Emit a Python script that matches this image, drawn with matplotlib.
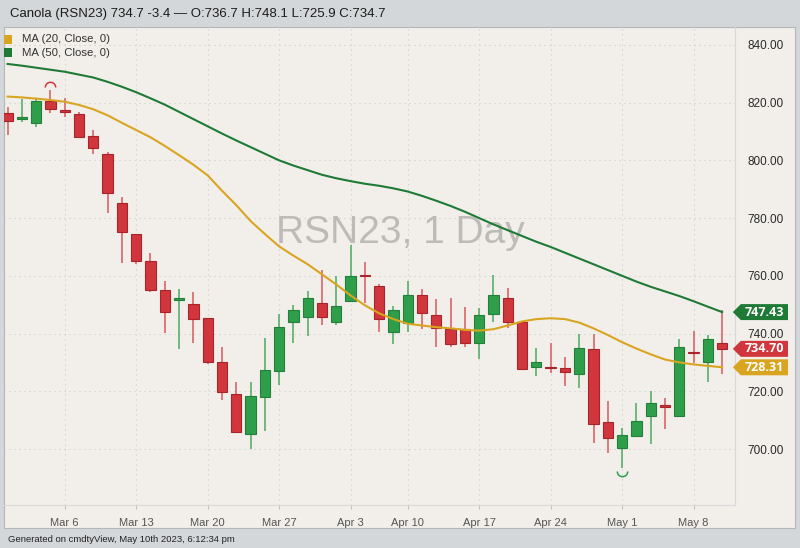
import numpy as np
import pandas as pd
import matplotlib
matplotlib.use('Agg')
import matplotlib.pyplot as plt
import matplotlib.transforms as mtransforms
from matplotlib.path import Path
from matplotlib.patches import Rectangle, Polygon

plt.rcParams['font.family'] = ['Liberation Sans', 'DejaVu Sans']

# Canola RSN23 daily bars
dates = ['2023-02-28', '2023-03-01', '2023-03-02', '2023-03-03',
         '2023-03-06', '2023-03-07', '2023-03-08', '2023-03-09', '2023-03-10',
         '2023-03-13', '2023-03-14', '2023-03-15', '2023-03-16', '2023-03-17',
         '2023-03-20', '2023-03-21', '2023-03-22', '2023-03-23', '2023-03-24',
         '2023-03-27', '2023-03-28', '2023-03-29', '2023-03-30', '2023-03-31',
         '2023-04-03', '2023-04-04', '2023-04-05', '2023-04-06',
         '2023-04-10', '2023-04-11', '2023-04-12', '2023-04-13', '2023-04-14',
         '2023-04-17', '2023-04-18', '2023-04-19', '2023-04-20', '2023-04-21',
         '2023-04-24', '2023-04-25', '2023-04-26', '2023-04-27', '2023-04-28',
         '2023-05-01', '2023-05-02', '2023-05-03', '2023-05-04', '2023-05-05',
         '2023-05-08', '2023-05-09', '2023-05-10']

opens = [816.3, 814.4, 812.9, 820.4, 817.6, 816.1, 808.5, 802.1, 785.1,
         774.4, 765.3, 755.1, 751.7, 750.2, 745.3, 730.1, 719.0, 705.2, 718.1,
         727.1, 744.1, 745.6, 750.7, 744.1, 751.3, 760.2, 756.3, 740.4,
         743.6, 753.4, 746.4, 741.5, 741.5, 736.6, 746.7, 752.2, 744.1, 728.5,
         728.2, 728.0, 725.9, 734.6, 709.3, 700.3, 704.5, 711.5, 715.3, 711.6,
         733.6, 730.1, 736.7]
highs = [818.6, 821.2, 821.2, 824.4, 821.5, 816.9, 810.5, 803.0, 787.2,
         774.6, 768.0, 758.3, 755.3, 754.5, 745.5, 735.5, 723.3, 723.3, 738.4,
         746.7, 749.9, 754.8, 762.0, 760.0, 770.7, 764.7, 757.2, 749.6,
         758.3, 755.3, 751.9, 752.4, 749.3, 748.8, 760.3, 755.7, 744.3, 734.9,
         736.8, 732.0, 739.9, 739.9, 716.6, 707.2, 716.1, 720.1, 717.8, 738.0,
         741.0, 739.5, 748.1]
lows = [808.8, 813.4, 811.7, 816.3, 814.9, 807.7, 802.2, 781.9, 764.4,
        764.1, 754.5, 740.3, 734.6, 736.6, 729.5, 717.0, 705.5, 699.9, 706.4,
        722.2, 736.6, 739.2, 743.0, 743.0, 751.1, 750.5, 740.7, 736.4,
        740.7, 741.5, 735.3, 735.5, 735.5, 731.1, 743.9, 742.0, 727.4, 725.4,
        726.2, 721.8, 721.3, 702.0, 698.7, 693.3, 704.3, 701.6, 707.0, 711.0,
        729.9, 723.3, 725.9]
closes = [813.8, 814.9, 820.7, 817.7, 816.7, 808.0, 804.4, 788.6, 775.3,
          765.2, 755.1, 747.6, 752.2, 745.1, 730.3, 719.7, 706.0, 718.4, 727.4,
          742.4, 748.2, 752.2, 745.6, 749.6, 760.0, 759.8, 745.0, 748.2,
          753.4, 747.2, 742.0, 736.3, 736.6, 746.4, 753.4, 744.1, 727.7, 730.3,
          727.9, 726.6, 735.1, 708.7, 703.7, 704.9, 709.7, 716.1, 714.5, 735.3,
          733.2, 738.1, 734.7]

ma20 = [822.1, 821.8, 821.4, 820.9, 820.3, 819.2, 817.7, 815.6, 813.0,
        810.5, 808.0, 805.0, 801.8, 798.5, 794.8, 789.5, 784.5, 779.0, 774.5,
        770.2, 767.0, 764.0, 760.5, 757.0, 753.2, 749.8, 747.0, 745.0,
        743.4, 742.8, 742.2, 741.8, 741.3, 741.0, 741.5, 742.8, 744.2, 745.0,
        745.3, 745.0, 743.8, 741.8, 739.5, 737.0, 734.8, 732.8, 731.0, 730.0,
        729.3, 728.8, 728.31]
ma50 = [833.4, 832.8, 832.1, 831.4, 830.7, 829.7, 828.7, 827.2, 825.5,
        823.6, 821.5, 819.3, 816.8, 814.3, 811.8, 809.3, 806.9, 804.6, 802.3,
        800.0, 798.2, 796.6, 795.0, 793.8, 792.8, 791.9, 791.2, 790.3,
        789.2, 787.7, 786.0, 784.2, 782.2, 780.0, 777.8, 775.8, 773.8, 771.8,
        770.0, 768.0, 766.0, 764.0, 762.0, 760.0, 758.0, 756.2, 754.6, 753.0,
        751.2, 749.3, 747.43]

title = 'Canola (RSN23) 734.7 -3.4 \u2014 O:736.7 H:748.1 L:725.9 C:734.7'
footer = 'Generated on cmdtyView, May 10th 2023, 6:12:34 pm'

RED, RED_EDGE, RED_WICK = '#d0363c', '#a8242a', '#d9585d'
GRN, GRN_EDGE, GRN_WICK = '#2f9e4a', '#22803a', '#4aa95f'
GOLD, DKGRN = '#d9a521', '#1f7a36'

W, H = 800, 548


def fx(px):
    return px / W


def fy(py):
    return 1 - py / H


fig = plt.figure(figsize=(8, 5.48), dpi=100, facecolor='#d4d7da')
fig.patches.append(Rectangle((fx(4), fy(528)), fx(795) - fx(4), fy(27) - fy(528),
                             transform=fig.transFigure, facecolor='#f2efea',
                             edgecolor='#b5b8bb', lw=0.8, zorder=-5))

ax = fig.add_axes([fx(4), fy(505), fx(735) - fx(4), fy(27) - fy(505)])
ax.set_facecolor('none')

o = np.array(opens)
h = np.array(highs)
l = np.array(lows)
c = np.array(closes)
x = np.arange(len(dates))
up = c >= o

ax.vlines(x, l, h, colors=np.where(up, GRN_WICK, RED_WICK), lw=1.1, zorder=2)
ax.bar(x, np.maximum(np.abs(c - o), 0.5), 0.72, np.minimum(o, c),
       color=np.where(up, GRN, RED), edgecolor=np.where(up, GRN_EDGE, RED_EDGE),
       lw=0.8, zorder=3)

ax.plot(x, ma20, color=GOLD, lw=1.5, zorder=4)
ax.plot(x, ma50, color=DKGRN, lw=1.5, zorder=4)

# high / low markers
ih, il = int(np.argmax(h)), int(np.argmin(l))
arc_up = Path.arc(0, 180)
arc_dn = Path.arc(180, 360)
ax.plot(ih, h[ih], marker=arc_up, ms=7.5, mfc='none', mec=GRN if up[ih] else RED,
        mew=1.1, transform=mtransforms.offset_copy(ax.transData, fig=fig, y=3, units='dots'))
ax.plot(il, l[il], marker=arc_dn, ms=7.5, mfc='none', mec=GRN if up[il] else RED,
        mew=1.1, transform=mtransforms.offset_copy(ax.transData, fig=fig, y=-3, units='dots'))

ax.set_xlim(-0.25, 50.9)
ax.set_ylim(680.6, 846.2)

# ticks
d = pd.to_datetime(dates)
mondays = [i for i, dd in enumerate(d) if dd.weekday() == 0]
ax.set_xticks(mondays)
ax.set_xticklabels([f'{d[i]:%b} {d[i].day}' for i in mondays])
ax.set_yticks(np.arange(700, 841, 20))
ax.set_yticklabels([f'{v:.2f}' for v in np.arange(700, 841, 20)])
ax.yaxis.tick_right()
ax.tick_params(axis='y', length=0, pad=9, labelsize=8.5, labelcolor='#2a2a2a')
ax.tick_params(axis='x', length=3, width=0.8, color='#c4c4c4', pad=6,
               labelsize=8, labelcolor='#555555')
ax.grid(True, ls=(0, (1, 3.5)), color='#cccccc', lw=0.8)
ax.set_axisbelow(True)
for side in ['top', 'left']:
    ax.spines[side].set_visible(False)
for side in ['bottom', 'right']:
    ax.spines[side].set_color('#d9d9d9')
    ax.spines[side].set_linewidth(0.8)

# watermark
ax.text(0.5417, 0.57, 'RSN23, 1 Day', transform=ax.transAxes, ha='center', va='center',
        fontsize=28, color='#bdbbb7', zorder=1)

# price tags on the right
tag_tr = mtransforms.blended_transform_factory(ax.transAxes, ax.transData)
ppu = ax.get_window_extent().height / (846.2 - 680.6)
half = 8 / ppu
for val, col in [(ma50[-1], DKGRN), (closes[-1], RED), (ma20[-1], GOLD)]:
    poly = Polygon([(0.997, val), (1.008, val + half), (1.0725, val + half),
                    (1.0725, val - half), (1.008, val - half)],
                   closed=True, transform=tag_tr, facecolor=col, edgecolor='none',
                   clip_on=False, zorder=5)
    ax.add_patch(poly)
    ax.text(1.04, val, f'{val:.2f}', transform=tag_tr, ha='center', va='center',
            fontsize=9, fontweight='bold', color='white', clip_on=False, zorder=6,
            family=['Open Sans', 'DejaVu Sans'])

# header, legend, footer
fig.text(fx(10), fy(13.5), title, ha='left', va='center', fontsize=9.5, color='#1c1c1c')
for yy, col, lab in [(39.5, GOLD, 'MA (20, Close, 0)'), (52.5, DKGRN, 'MA (50, Close, 0)')]:
    fig.patches.append(Rectangle((fx(3.5), fy(yy + 4)), fx(8.5), fy(0) - fy(8.5),
                                 transform=fig.transFigure, facecolor=col, edgecolor='none'))
    fig.text(fx(22.5), fy(yy), lab, ha='left', va='center', fontsize=8.2, color='#333333')
fig.text(fx(8), fy(540), footer, ha='left', va='center', fontsize=6.8, color='#222222')

fig.savefig('out.png', dpi=100, facecolor=fig.get_facecolor())
